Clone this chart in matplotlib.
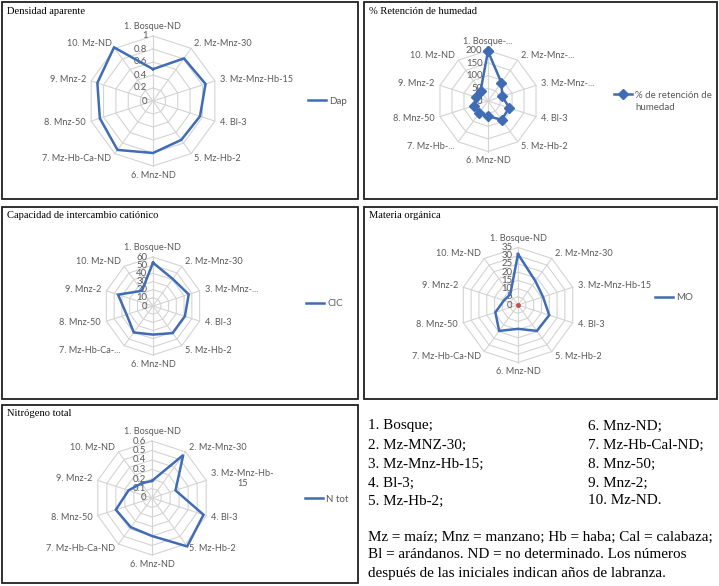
import numpy as np
import matplotlib
import matplotlib.pyplot as plt
from matplotlib.lines import Line2D
from matplotlib.patches import Rectangle

matplotlib.use("agg")

W, H = 719, 586

# data
dap = [0.49, 0.81, 0.85, 0.76, 0.74, 0.80, 0.93, 0.86, 0.90, 1.02]
retencion = [197, 90, 60, 88, 92, 60, 58, 59, 48, 50]
cic = [53, 41, 46, 41, 41, 35, 40, 34, 45, 23]
mo = [31, 18, 16, 20, 19.5, 14.5, 19.5, 14.5, 9, 8]
mo_ref = [0, 0, 0, 0, 0, 0, 0, 0, 0, 0]
n_tot = [0.18, 0.56, 0.26, 0.57, 0.63, 0.40, 0.38, 0.40, 0.26, 0.19]

cats_full = ["1. Bosque-ND", "2. Mz-Mnz-30", "3. Mz-Mnz-Hb-15", "4. Bl-3",
             "5. Mz-Hb-2", "6. Mnz-ND", "7. Mz-Hb-Ca-ND", "8. Mnz-50",
             "9. Mnz-2", "10. Mz-ND"]
cats_ret = ["1. Bosque-...", "2. Mz-Mnz-...", "3. Mz-Mnz-...", "4. Bl-3",
            "5. Mz-Hb-2", "6. Mnz-ND", "7. Mz-Hb-...", "8. Mnz-50",
            "9. Mnz-2", "10. Mz-ND"]
cats_cic = ["1. Bosque-ND", "2. Mz-Mnz-30", "3. Mz-Mnz-...", "4. Bl-3",
            "5. Mz-Hb-2", "6. Mnz-ND", "7. Mz-Hb-Ca-...", "8. Mnz-50",
            "9. Mnz-2", "10. Mz-ND"]
cats_n = ["1. Bosque-ND", "2. Mz-Mnz-30", "3. Mz-Mnz-Hb-\n15", "4. Bl-3",
          "5. Mz-Hb-2", "6. Mnz-ND", "7. Mz-Hb-Ca-ND", "8. Mnz-50",
          "9. Mnz-2", "10. Mz-ND"]

notes_left = ["1. Bosque;", "2. Mz-MNZ-30;", "3. Mz-Mnz-Hb-15;", "4. Bl-3;", "5. Mz-Hb-2;"]
notes_right = ["6. Mnz-ND;", "7. Mz-Hb-Cal-ND;", "8. Mnz-50;", "9. Mnz-2;", "10. Mz-ND."]
notes_par = ["Mz = maíz; Mnz = manzano; Hb = haba; Cal = calabaza;",
             "Bl = arándanos. ND = no determinado. Los números",
             "después de las iniciales indican años de labranza."]

LINE = "#3F6CB4"
GRID = "#D4D4D4"
LAB = "#595959"
SANS = "Lato"
SERIF = "Liberation Serif"
FS = 6.6
NOTE_FS = 10.9

fig = plt.figure(figsize=(W / 100, H / 100), dpi=100)
fig.patch.set_facecolor("white")


def fx(x):
    return x / W


def fy(y):
    return 1 - y / H


def panel_box(x0, y0, x1, y1, title):
    fig.patches.append(Rectangle((fx(x0), fy(y1)), fx(x1 - x0), (y1 - y0) / H,
                                 transform=fig.transFigure, fill=False,
                                 edgecolor="#202020", lw=1.3))
    fig.text(fx(x0 + 5), fy(y0 + 9), title, family=SERIF, fontsize=7.6,
             va="center", ha="left", color="black")


def radar(cx, cy, R, values, vmax, step, tick_fmt, cats, label, leg_x,
          leg_y, marker=None, extra=None):
    k = 1.45
    half = R * k
    ax = fig.add_axes([fx(cx - half), fy(cy + half), 2 * half / W, 2 * half / H])
    ax.set_xlim(-vmax * k, vmax * k)
    ax.set_ylim(-vmax * k, vmax * k)
    ax.set_aspect("equal")
    ax.axis("off")

    theta = np.linspace(0, 2 * np.pi, len(values), endpoint=False)
    s, c = np.sin(theta), np.cos(theta)

    # polygon grid
    n_rings = int(round(vmax / step))
    for i in range(1, n_rings + 1):
        r = i * step
        ax.plot(np.append(r * s, r * s[0]), np.append(r * c, r * c[0]),
                color=GRID, lw=0.8, zorder=1)
    for a, b in zip(s, c):
        ax.plot([0, vmax * a], [0, vmax * b], color=GRID, lw=0.8, zorder=1)

    # scale labels along the top spoke
    for i in range(n_rings + 1):
        ax.annotate(tick_fmt(i * step), xy=(0, i * step), xytext=(-4, 0),
                    textcoords="offset points", ha="right", va="center",
                    family=SANS, fontsize=FS + 0.3, color=LAB, zorder=2)

    # category labels
    for name, a, b in zip(cats, s, c):
        if abs(a) < 0.1:
            ha, pad = "center", 6.5
        else:
            ha, pad = ("left" if a > 0 else "right"), 4.0
        ax.annotate(name, xy=(vmax * a, vmax * b),
                    xytext=(pad * a, pad * b), textcoords="offset points",
                    ha=ha, va="center", multialignment="center",
                    family=SANS, fontsize=FS, color=LAB)

    v = np.asarray(values, dtype=float)
    ax.plot(np.append(v * s, v[0] * s[0]), np.append(v * c, v[0] * c[0]),
            color=LINE, lw=1.8, marker=marker, markersize=4.6,
            clip_on=False, zorder=4, solid_joinstyle="miter")
    if extra is not None:
        e = np.asarray(extra, dtype=float)
        ax.plot(e * s, e * c, ls="none", marker="s", markersize=1.5,
                color="#C0504D", zorder=5)

    handle = Line2D([], [], color=LINE, lw=1.8, marker=marker, markersize=4.6)
    leg = ax.legend([handle], [label], loc="center left",
                    bbox_to_anchor=(fx(leg_x), fy(leg_y)),
                    bbox_transform=fig.transFigure, frameon=False,
                    borderpad=0, borderaxespad=0, handlelength=1.9,
                    handletextpad=0.3, prop={"family": SANS, "size": FS + 0.4})
    for t in leg.get_texts():
        t.set_color(LAB)
    return ax, leg


def fmt_dec(v):
    return f"{v:.1f}".rstrip("0").rstrip(".") if v else "0"


def fmt_int(v):
    return f"{int(round(v))}"


panel_box(2, 2, 358, 199, "Densidad aparente")
panel_box(364, 2, 717, 199, "% Retención de humedad")
panel_box(2, 207, 358, 399, "Capacidad de intercambio catiónico")
panel_box(364, 207, 717, 399, "Materia orgánica")
panel_box(2, 405, 358, 583, "Nitrógeno total")

radar(153, 101, 65, dap, 1.0, 0.2, fmt_dec, cats_full, "Dap", 308, 101)
ax_r, leg_r = radar(488, 101, 50.5, retencion, 200, 50, fmt_int, cats_ret,
                    "% de retención de", 614, 95, marker="D")
radar(153, 306, 49, cic, 60, 10, fmt_int, cats_cic, "CIC", 306, 304)
radar(518, 305, 57.5, mo, 35, 5, fmt_int, cats_full, "MO", 655, 298,
      extra=mo_ref)
radar(152, 498, 57, n_tot, 0.6, 0.1, fmt_dec, cats_n, "N tot", 305, 499)

# second line of the moisture legend, under the first
fig.canvas.draw()
bb = leg_r.get_texts()[0].get_window_extent()
fig.text(bb.x0 / W, fy(108), "humedad", family=SANS, fontsize=FS + 0.4,
         color=LAB, ha="left", va="center")

# notes panel
rows_y = [426, 445, 464, 483, 501]
for y, a, b in zip(rows_y, notes_left, notes_right):
    fig.text(fx(368), fy(y), a, family=SERIF, fontsize=NOTE_FS, va="center")
    fig.text(fx(588), fy(y), b, family=SERIF, fontsize=NOTE_FS, va="center")
for y, line in zip([537, 555, 573], notes_par):
    fig.text(fx(368), fy(y), line, family=SERIF, fontsize=NOTE_FS, va="center")

fig.savefig("out.png", dpi=100)
